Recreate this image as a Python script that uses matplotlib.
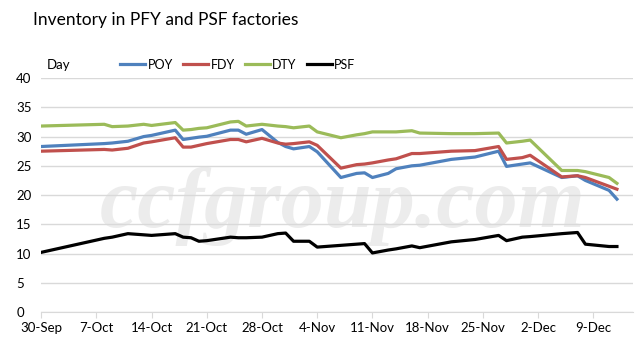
import datetime as dt
import matplotlib
matplotlib.use("Agg")
import matplotlib.pyplot as plt
import matplotlib.dates as mdates
from matplotlib.ticker import FuncFormatter

# ---- data ----
start = dt.date(2019, 9, 30)
day_offsets = [0, 8, 9, 11, 13, 14, 17, 18, 19, 20, 21, 24, 25, 26, 28, 30, 31, 32, 34,
               35, 38, 40, 41, 42, 44, 45, 47, 48, 52, 55, 58, 59, 61, 62, 66, 68, 69, 72, 73]
poy = [28.3, 28.8, 28.9, 29.2, 30.0, 30.2, 31.1, 29.5, 29.7, 29.9, 30.05, 31.1, 31.1, 30.4, 31.2,
       29.0, 28.3, 27.9, 28.3, 27.4, 23.0, 23.7, 23.8, 23.0, 23.7, 24.5, 25.0, 25.1, 26.1, 26.5,
       27.5, 24.9, 25.3, 25.5, 23.0, 23.3, 22.5, 20.8, 19.3]
fdy = [27.5, 27.8, 27.7, 28.0, 28.9, 29.1, 29.8, 28.2, 28.2, 28.5, 28.8, 29.5, 29.5, 29.1, 29.7,
       28.9, 28.7, 28.8, 29.1, 28.5, 24.6, 25.2, 25.3, 25.5, 26.0, 26.2, 27.1, 27.1, 27.5, 27.6,
       28.3, 26.1, 26.4, 26.8, 23.1, 23.3, 23.0, 21.5, 21.0]
dty = [31.8, 32.1, 31.7, 31.8, 32.1, 31.9, 32.4, 31.1, 31.2, 31.4, 31.5, 32.5, 32.6, 31.8, 32.1,
       31.8, 31.7, 31.5, 31.8, 30.8, 29.8, 30.3, 30.5, 30.8, 30.8, 30.8, 31.0, 30.6, 30.5, 30.5,
       30.6, 28.9, 29.2, 29.4, 24.2, 24.2, 24.0, 23.0, 22.0]
psf = [10.2, 12.6, 12.8, 13.4, 13.2, 13.1, 13.4, 12.8, 12.7, 12.1, 12.2, 12.8, 12.7, 12.7, 12.8,
       13.4, 13.5, 12.1, 12.1, 11.1, 11.4, 11.6, 11.7, 10.1, 10.6, 10.8, 11.3, 11.0, 12.0, 12.4,
       13.1, 12.2, 12.8, 12.9, 13.4, 13.6, 11.6, 11.2, 11.2]
series_names = ["POY", "FDY", "DTY", "PSF"]
series_colors = ["#4F81BD", "#C0504D", "#9BBB59", "#000000"]
y_ticks = [0, 5, 10, 15, 20, 25, 30, 35, 40]
title = "Inventory in PFY and PSF factories"

dates = [start + dt.timedelta(days=d) for d in day_offsets]

plt.rcParams['font.family'] = ['Lato', 'DejaVu Sans']

fig = plt.figure(figsize=(6.43, 3.41), dpi=100)
ax = fig.add_axes([0.064, 0.085, 0.92, 0.686])

# watermark (behind grid and lines)
ax.text(0.51, 0.45, "ccfgroup.com", fontsize=62, family=['Liberation Serif', 'DejaVu Serif'],
        style='italic', fontweight='bold', color='#ececec', ha='center', va='center',
        zorder=0.1, transform=ax.transAxes)

for name, vals, col in zip(series_names, [poy, fdy, dty, psf], series_colors):
    ax.plot(dates, vals, color=col, lw=2.3, label=name, solid_joinstyle='round', zorder=3)

ax.set_ylim(0, 40)
ax.set_yticks(y_ticks)
ax.set_xlim(start, start + dt.timedelta(days=75))
ax.xaxis.set_major_locator(mdates.WeekdayLocator(byweekday=mdates.MO))
ax.xaxis.set_major_formatter(FuncFormatter(
    lambda x, p: f"{mdates.num2date(x).day}-{mdates.num2date(x).strftime('%b')}"))

ax.grid(axis='y', color='#d9d9d9', lw=1, zorder=0.5)
ax.set_axisbelow(True)
for s in ['top', 'right', 'left']:
    ax.spines[s].set_visible(False)
ax.spines['bottom'].set_color('#d9d9d9')
ax.tick_params(axis='y', length=0, labelsize=9.5, pad=18)
ax.tick_params(axis='x', length=4, color='#d9d9d9', labelsize=9.5, pad=3)
for lab in ax.get_yticklabels():
    lab.set_horizontalalignment('left')

fig.text(0.051, 0.94, title, fontsize=12.5, ha='left', va='center')
fig.text(0.073, 0.81, "Day", fontsize=9.5, ha='left', va='center')
fig.legend(loc='center', bbox_to_anchor=(0.37, 0.81), ncol=4, frameon=False,
           fontsize=9, handlelength=2.0, handletextpad=0.2, columnspacing=0.8)

fig.savefig("out.png", dpi=100)
